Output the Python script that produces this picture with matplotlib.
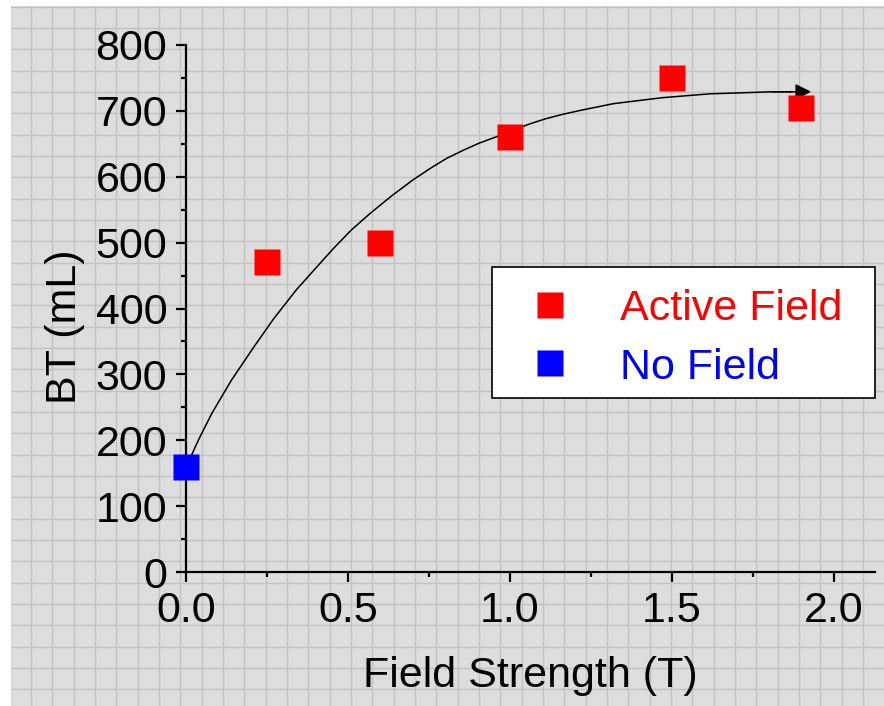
import numpy as np
import matplotlib
matplotlib.use("Agg")
import matplotlib.pyplot as plt
from matplotlib.patches import Rectangle

plt.rcParams["font.family"] = ["Liberation Sans", "DejaVu Sans"]

# data
active_x = [0.25, 0.6, 1.0, 1.5, 1.9]
active_y = [470, 500, 660, 750, 705]
nofield_x = [0.0]
nofield_y = [160]

# fitted trend line (traced points)
fit_x = [0.0, 0.04, 0.08, 0.14, 0.21, 0.27, 0.34, 0.40, 0.455, 0.51, 0.57,
         0.635, 0.70, 0.755, 0.805, 0.855, 0.905, 0.96, 1.01, 1.06, 1.11,
         1.165, 1.22, 1.27, 1.32, 1.37, 1.42, 1.47, 1.52, 1.57, 1.62,
         1.69, 1.75, 1.81, 1.87, 1.93]
fit_y = [159, 202, 241, 291, 342, 384, 428, 461, 491, 519, 545,
         571, 595, 613, 628, 640, 651, 661, 671, 680, 688,
         695, 701, 706, 711, 714, 717, 720, 722, 724, 726,
         727, 728, 729, 729, 729]

W, H = 884, 706
fig = plt.figure(figsize=(W / 100, H / 100), dpi=100, facecolor="white")

# graph-paper background
bg = fig.add_axes([11 / W, 0, 1 - 11 / W, 1 - 6 / H], zorder=-5)
bg.set_xlim(11, W)
bg.set_ylim(H, 6)
bg.axis("off")
bg.add_patch(Rectangle((11, 6), W - 11, H - 6, color="#dddddd", zorder=0))
step = 21.33
for gx in np.arange(31 - step, W, step):
    bg.axvline(gx, color="#c2c2c2", lw=1.0, zorder=1)
for gy in np.arange(28 - step, H, step):
    bg.axhline(gy, color="#c2c2c2", lw=1.0, zorder=1)

ax = fig.add_axes([186 / W, (H - 572) / H, 689 / W, 527 / H])
ax.set_facecolor("none")
ax.set_xlim(0, 2.127)
ax.set_ylim(0, 800)

for s in ["top", "right"]:
    ax.spines[s].set_visible(False)
for s in ["left", "bottom"]:
    ax.spines[s].set_linewidth(1.6)

ax.set_xticks([0.0, 0.5, 1.0, 1.5, 2.0])
ax.set_xticks([0.25, 0.75, 1.25, 1.75], minor=True)
ax.set_yticks(range(0, 801, 100))
ax.set_yticks(range(50, 800, 100), minor=True)
ax.set_xticklabels(["0.0", "0.5", "1.0", "1.5", "2.0"])
ax.tick_params(which="major", direction="out", length=7.5, width=1.6,
               labelsize=31, pad=6)
ax.tick_params(which="minor", direction="out", length=3.8, width=1.6)

ax.plot(fit_x[:-1], fit_y[:-1], color="black", lw=1.1, zorder=2,
        solid_joinstyle="round")
ax.annotate("", xy=(fit_x[-1], fit_y[-1]), xytext=(fit_x[-3], fit_y[-3]),
            arrowprops=dict(arrowstyle="-|>", color="black", lw=1.1,
                            mutation_scale=24, shrinkA=0, shrinkB=0),
            zorder=2)

ax.plot(active_x, active_y, "s", color="#ff0000", ms=18.5, mec="none",
        label="Active Field", zorder=3, clip_on=False)
ax.plot(nofield_x, nofield_y, "s", color="#0000ff", ms=18.5, mec="none",
        label="No Field", zorder=3, clip_on=False)

ax.set_xlabel("Field Strength (T)", fontsize=31)
ax.set_ylabel("BT (mL)", fontsize=31)
ax.xaxis.set_label_coords(0.5, -0.16)
ax.yaxis.set_label_coords(-0.147, 0.465)

# legend box
ax.add_patch(Rectangle((0.444, 0.330), 0.556, 0.249, transform=ax.transAxes,
                       facecolor="white", edgecolor="black", lw=1.2,
                       zorder=4, clip_on=False))
leg = ax.legend(loc="upper left", bbox_to_anchor=(0.4935, 0.537),
                frameon=False, fontsize=31, borderpad=0, borderaxespad=0,
                handlelength=1.12, handletextpad=1.07, labelspacing=0.43,
                labelcolor=["#ff0000", "#0000ff"], numpoints=1)
leg.set_zorder(5)

fig.savefig("out.png", dpi=100, facecolor="white")
